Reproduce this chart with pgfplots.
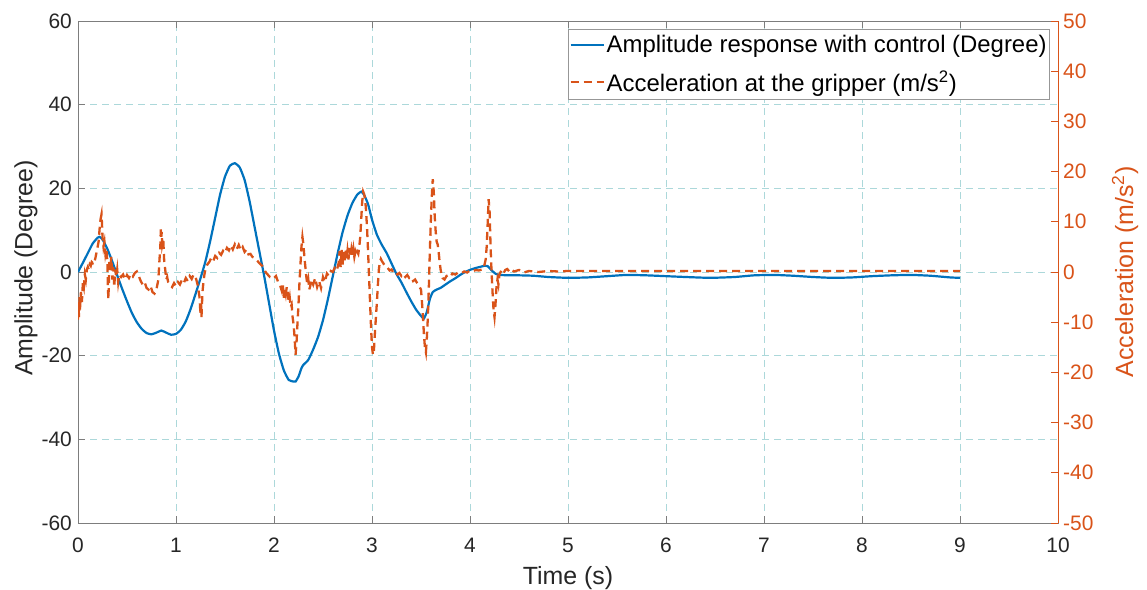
\documentclass[border=0pt]{standalone}
\usepackage{fontspec}
\setmainfont{Liberation Sans}
\usepackage{pgfplots}
\pgfplotsset{compat=1.18}

\definecolor{mblue}{RGB}{0,114,189}
\definecolor{morange}{RGB}{217,83,25}
\definecolor{gridc}{RGB}{172,216,218}
\definecolor{axgray}{RGB}{125,125,125}
\definecolor{txtc}{RGB}{38,38,38}

\newcommand{\tickfont}{\fontsize{21}{25}\selectfont}
\newcommand{\labfont}{\fontsize{25}{29}\selectfont}
\newcommand{\legfont}{\fontsize{24}{28}\selectfont}

\pgfplotsset{
  /pgf/number format/assume math mode=true,
  common/.style={
    at={(78bp,67bp)}, anchor=south west,
    width=980bp, height=502bp, scale only axis,
    xmin=0, xmax=10,
    tick align=inside, major tick length=7bp,
    tick label style={font=\tickfont, inner sep=0pt},
  },
}

\begin{document}
\begin{tikzpicture}[x=1bp,y=1bp]
\path[use as bounding box] (0,0) rectangle (1147,590);

% left axis: amplitude
\begin{axis}[
  common,
  ymin=-60, ymax=60,
  xtick={0,1,...,10}, ytick={-60,-40,...,60},
  xtick pos=both, ytick pos=left,
  grid=major,
  major grid style={gridc, line width=0.9bp, dash pattern=on 7bp off 5bp},
  axis line style={axgray, line width=0.8bp},
  every tick/.style={axgray, line width=0.8bp},
  ticklabel style={text=txtc},
  xticklabel style={yshift=-15bp},
  yticklabel style={xshift=-6bp},
  xlabel={Time (s)},
  ylabel={Amplitude (Degree)},
  xlabel style={font=\labfont, text=txtc, at={(rel axis cs:0.5,0)}, anchor=center, yshift=-55bp},
  ylabel style={font=\labfont, text=txtc, at={(rel axis cs:0,0.5)}, anchor=center, yshift=52bp, xshift=4bp},
]
\addplot[mblue, line width=2.2bp, smooth, tension=0.3] table {
0.00 0.0
0.05 2.2
0.10 4.5
0.15 6.8
0.20 8.2
0.22 8.4
0.25 7.8
0.30 5.5
0.35 2.5
0.40 -0.8
0.45 -4.0
0.50 -7.0
0.55 -9.8
0.60 -12.0
0.65 -13.6
0.70 -14.6
0.75 -14.9
0.80 -14.5
0.85 -14.0
0.90 -14.5
0.95 -15.0
1.00 -14.8
1.05 -13.8
1.10 -11.8
1.15 -8.8
1.20 -5.2
1.25 -1.5
1.30 2.5
1.35 7.5
1.40 13.0
1.45 18.5
1.50 22.8
1.55 25.4
1.60 26.0
1.65 25.0
1.70 22.0
1.75 17.0
1.80 11.0
1.85 5.0
1.90 -1.0
1.95 -7.5
2.00 -14.0
2.05 -19.5
2.10 -23.5
2.15 -25.8
2.20 -26.2
2.22 -26.2
2.25 -25.0
2.28 -23.0
2.30 -22.2
2.35 -21.0
2.40 -18.5
2.45 -15.5
2.50 -11.5
2.55 -6.5
2.60 -1.0
2.65 4.5
2.70 9.5
2.75 13.5
2.80 16.5
2.85 18.5
2.89 19.2
2.92 18.4
2.96 16.2
3.00 12.5
3.05 8.9
3.10 6.5
3.15 4.5
3.20 2.0
3.25 -0.5
3.30 -2.5
3.35 -4.8
3.40 -7.0
3.45 -9.0
3.50 -10.5
3.53 -11.1
3.56 -9.5
3.59 -6.5
3.62 -4.8
3.66 -4.2
3.70 -3.8
3.75 -3.0
3.80 -2.2
3.85 -1.5
3.90 -0.7
3.95 0.0
4.00 0.5
4.05 0.9
4.10 1.2
4.15 1.5
4.18 1.4
4.22 0.4
4.26 -0.4
4.30 -0.7
4.40 -0.8
4.50 -0.8
4.65 -0.9
4.80 -1.2
5.00 -1.4
5.20 -1.3
5.40 -1.0
5.60 -0.7
5.80 -0.8
6.00 -1.0
6.20 -1.2
6.45 -1.4
6.70 -1.2
6.90 -0.8
7.10 -0.7
7.30 -0.9
7.50 -1.2
7.70 -1.4
7.90 -1.3
8.10 -1.0
8.30 -0.8
8.50 -0.7
8.70 -0.9
8.90 -1.3
9.00 -1.4
};
\end{axis}

% right axis: acceleration
\begin{axis}[
  common,
  ymin=-50, ymax=50,
  ytick={-50,-40,...,50},
  axis x line=none, axis y line*=right,
  y axis line style={morange, line width=0.8bp},
  every tick/.style={morange, line width=0.8bp},
  yticklabel style={text=morange, xshift=5bp},
  ylabel={Acceleration (m/s\textsuperscript{2})},
  ylabel style={font=\labfont, text=morange, at={(rel axis cs:1,0.5)}, anchor=center, yshift=-67bp},
  legend style={at={(rel axis cs:1,1)}, anchor=north east, xshift=-8bp, yshift=-8bp,
    draw=axgray!80, fill=white, line width=0.8bp, font=\legfont, text=black,
    inner xsep=1bp, inner ysep=4bp, row sep=13bp, nodes={inner sep=2bp}},
  legend cell align=left,
  legend image code/.code={\draw[#1] (0bp,0bp) -- (33bp,0bp);},
]
\addlegendimage{mblue, line width=2bp}
\addlegendentry{Amplitude response with control (Degree)}
\addplot[morange, line width=2.3bp, dash pattern=on 8bp off 5bp] table {
0.000 -9.5
0.005 -6.0
0.010 -9.0
0.015 -5.0
0.020 -7.5
0.030 -4.0
0.040 -6.0
0.050 -2.0
0.060 -3.0
0.070 -0.5
0.080 -1.5
0.090 0.5
0.100 1.0
0.110 0.5
0.120 1.5
0.130 1.2
0.140 2.0
0.150 1.8
0.160 2.4
0.170 2.2
0.180 3.0
0.190 4.0
0.200 5.0
0.210 6.0
0.220 8.5
0.230 10.5
0.240 11.5
0.245 9.5
0.250 7.0
0.260 5.0
0.270 6.0
0.280 3.5
0.290 4.5
0.300 2.0
0.305 -3.0
0.310 -5.5
0.315 -2.0
0.320 2.5
0.330 0.5
0.340 3.0
0.350 -1.5
0.360 1.0
0.370 -3.0
0.380 0.5
0.390 -1.0
0.400 0.5
0.410 -2.0
0.420 -0.5
0.440 -1.0
0.460 -0.5
0.480 -1.5
0.500 -0.6
0.520 -1.2
0.540 -0.4
0.560 -0.9
0.580 -0.2
0.600 0.1
0.620 -0.8
0.640 -1.8
0.660 -2.5
0.680 -2.0
0.700 -3.2
0.720 -3.5
0.740 -2.8
0.760 -4.0
0.780 -4.3
0.800 -3.5
0.820 -1.5
0.830 2.0
0.840 5.0
0.845 8.5
0.850 7.0
0.855 8.0
0.860 5.5
0.870 6.5
0.880 2.0
0.890 0.5
0.900 -1.5
0.910 -1.0
0.920 -2.0
0.940 -2.6
0.960 -3.0
0.980 -2.2
1.000 -2.8
1.020 -2.0
1.040 -2.5
1.060 -1.6
1.080 -2.2
1.100 -1.2
1.120 -1.8
1.140 -0.8
1.160 -1.4
1.180 -0.5
1.200 -1.0
1.220 -2.5
1.240 -5.0
1.250 -8.5
1.255 -6.0
1.260 -9.0
1.270 -4.0
1.280 -2.0
1.290 -0.5
1.300 0.5
1.320 1.5
1.340 2.0
1.360 2.8
1.380 2.2
1.400 3.2
1.420 2.8
1.440 3.8
1.460 3.4
1.480 4.2
1.500 3.8
1.520 4.8
1.540 4.3
1.560 5.3
1.580 4.5
1.600 5.5
1.620 4.6
1.640 5.4
1.660 4.4
1.680 5.0
1.700 4.0
1.720 4.5
1.740 3.5
1.760 3.6
1.780 3.0
1.800 2.8
1.820 2.5
1.840 2.0
1.860 1.6
1.880 1.2
1.900 0.5
1.920 -0.2
1.940 -0.6
1.960 -1.0
1.980 -0.9
2.000 -1.2
2.020 -0.8
2.040 -1.9
2.060 -2.5
2.080 -3.8
2.090 -2.5
2.100 -5.2
2.110 -3.5
2.120 -4.5
2.130 -3.0
2.140 -4.0
2.150 -6.0
2.160 -5.0
2.170 -7.0
2.180 -6.5
2.190 -9.0
2.200 -10.5
2.210 -13.0
2.220 -16.5
2.230 -14.0
2.240 -10.0
2.250 -6.5
2.260 -2.0
2.270 1.5
2.280 5.0
2.290 7.0
2.300 5.5
2.310 3.0
2.320 1.0
2.330 -1.0
2.340 -2.5
2.350 -1.5
2.360 -3.5
2.370 -2.8
2.380 -1.5
2.400 -2.5
2.420 -1.2
2.440 -3.0
2.460 -1.8
2.480 -3.2
2.500 -1.0
2.520 -2.0
2.540 -0.3
2.560 -0.8
2.580 0.2
2.600 0.0
2.620 0.8
2.640 0.3
2.660 1.8
2.670 4.2
2.680 1.0
2.690 4.5
2.700 1.5
2.710 4.0
2.720 2.0
2.730 4.6
2.740 2.2
2.750 4.2
2.760 2.5
2.770 4.8
2.780 3.0
2.790 4.5
2.800 3.2
2.810 4.6
2.820 3.0
2.830 4.0
2.840 3.2
2.850 4.0
2.860 3.6
2.870 5.0
2.880 7.0
2.890 10.5
2.900 14.0
2.910 16.0
2.920 15.5
2.930 14.5
2.940 12.0
2.950 8.5
2.960 4.0
2.970 -1.0
2.980 -6.0
2.990 -11.0
3.000 -15.0
3.010 -16.5
3.020 -15.5
3.030 -12.0
3.040 -9.0
3.050 -6.0
3.060 -2.5
3.070 0.5
3.080 2.0
3.090 2.6
3.100 2.2
3.120 1.6
3.140 1.0
3.160 0.8
3.180 0.3
3.200 0.5
3.220 -0.2
3.240 0.0
3.260 -0.5
3.280 -0.2
3.300 -0.8
3.320 -0.4
3.340 -1.0
3.360 -0.6
3.380 -1.2
3.400 -1.0
3.420 -1.8
3.440 -1.5
3.460 -2.2
3.480 -2.8
3.500 -3.5
3.510 -6.0
3.520 -9.0
3.530 -12.5
3.540 -15.0
3.550 -16.0
3.560 -13.0
3.570 -9.0
3.580 -3.0
3.590 4.0
3.600 10.0
3.610 15.0
3.620 18.5
3.630 16.0
3.640 11.0
3.650 8.0
3.660 6.0
3.670 5.5
3.680 4.0
3.690 2.0
3.700 0.5
3.710 -0.5
3.720 -1.2
3.740 -1.5
3.760 -0.8
3.780 -0.6
3.800 -0.9
3.820 -0.3
3.850 -0.5
3.880 -0.1
3.910 -0.3
3.940 0.1
3.970 -0.1
4.000 0.3
4.030 0.2
4.060 0.4
4.090 0.3
4.120 0.5
4.140 0.8
4.160 2.5
4.170 5.0
4.180 9.5
4.190 14.5
4.200 12.0
4.210 5.0
4.220 0.0
4.230 -4.0
4.240 -7.5
4.250 -9.0
4.260 -6.5
4.270 -3.0
4.280 -1.5
4.290 -2.5
4.300 -0.5
4.320 0.3
4.340 -0.3
4.360 0.4
4.380 0.6
4.400 0.1
4.420 0.5
4.450 0.1
4.500 0.4
4.550 -0.1
4.600 0.2
4.700 0.0
4.800 0.2
4.900 0.1
5.000 0.2
5.500 0.2
6.000 0.2
6.500 0.2
7.000 0.2
7.500 0.2
8.000 0.2
8.500 0.2
9.000 0.2
};
\addlegendentry{Acceleration at the gripper (m/s\textsuperscript{2})}
\end{axis}
\end{tikzpicture}
\end{document}
